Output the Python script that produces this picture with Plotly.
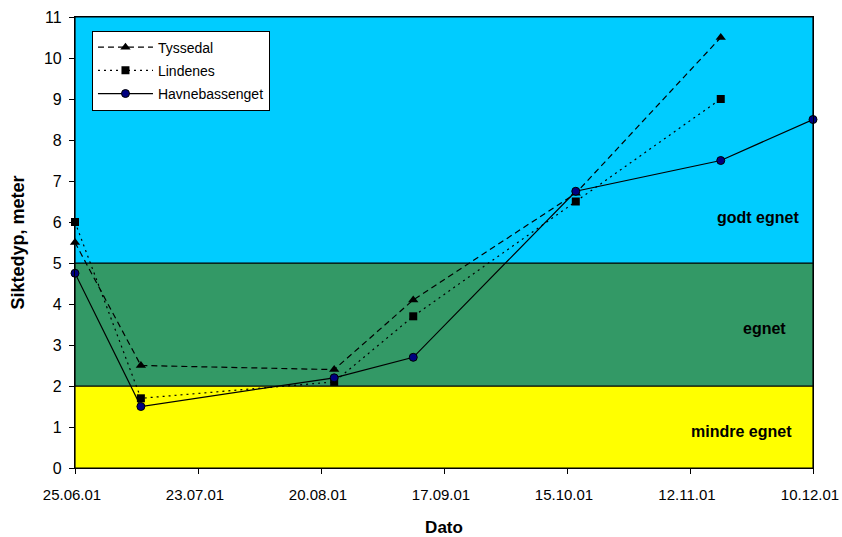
import plotly.graph_objects as go

# Sampling dates and Secchi depths (m) per station
dates = ["2001-06-25", "2001-07-10", "2001-08-23", "2001-09-10",
         "2001-10-17", "2001-11-19", "2001-12-10"]
tyssedal = [5.5, 2.5, 2.4, 4.1, 6.7, 10.5]
lindenes = [6.0, 1.7, 2.1, 3.7, 6.5, 9.0]
havnebassenget = [4.75, 1.5, 2.2, 2.7, 6.75, 7.5, 8.5]

# Suitability classes: (lower, upper, colour, label)
bands = [(0, 2, "#FFFF00", "mindre egnet"),
         (2, 5, "#339966", "egnet"),
         (5, 11, "#00CCFF", "godt egnet")]
band_label_pos = [(0.903, 0.88), (0.934, 3.41), (0.925, 6.1)]

tick_vals = ["2001-06-25", "2001-07-23", "2001-08-20", "2001-09-17",
             "2001-10-15", "2001-11-12", "2001-12-10"]
tick_text = ["25.06.01", "23.07.01", "20.08.01", "17.09.01",
             "15.10.01", "12.11.01", "10.12.01"]

font = "Liberation Sans, Arial, sans-serif"

fig = go.Figure()
fig.add_trace(go.Scatter(
    x=dates[:len(tyssedal)], y=tyssedal, name="Tyssedal", mode="lines+markers",
    legendgroup="a",
    line=dict(color="black", width=1.2, dash="6px,4px"),
    marker=dict(symbol="triangle-up", size=9, color="black"), cliponaxis=False))
fig.add_trace(go.Scatter(
    x=dates[:len(lindenes)], y=lindenes, name="Lindenes", mode="lines+markers",
    legendgroup="b",
    line=dict(color="black", width=1.2, dash="2px,4px"),
    marker=dict(symbol="square", size=8, color="black"), cliponaxis=False))
fig.add_trace(go.Scatter(
    x=dates, y=havnebassenget, name="Havnebassenget", mode="lines+markers",
    legendgroup="c",
    line=dict(color="black", width=1.2),
    marker=dict(symbol="circle", size=8, color="#000080",
                line=dict(color="black", width=1)), cliponaxis=False))

for (lo, hi, col, lab), (lx, ly) in zip(bands, band_label_pos):
    fig.add_shape(type="rect", xref="paper", yref="y", x0=0, x1=1, y0=lo, y1=hi,
                  fillcolor=col, line=dict(color="black", width=1.2), layer="below")
    fig.add_annotation(x=lx, xref="paper", y=ly, yref="y", text=f"<b>{lab}</b>",
                       xanchor="center", yanchor="middle", showarrow=False,
                       font=dict(family=font, size=16, color="black"))

fig.update_layout(
    width=842, height=537,
    margin=dict(l=75, r=29, t=17, b=69),
    paper_bgcolor="white", plot_bgcolor="white",
    font=dict(family=font, size=16, color="black"),
    showlegend=True,
    legend=dict(x=0.023, y=0.97, xanchor="left", yanchor="top",
                bgcolor="white", bordercolor="black", borderwidth=1,
                font=dict(family=font, size=14), itemwidth=55,
                tracegroupgap=2),
    xaxis=dict(type="date", range=["2001-06-25", "2001-12-10"],
               tickvals=tick_vals, ticktext=tick_text, automargin=False,
               ticks="outside", ticklen=5, tickcolor="black",
               tickfont=dict(size=15),
               ticklabelstandoff=8, ticklabelshift=-3,
               ticklabeloverflow="allow",
               showgrid=False, zeroline=False, showline=True,
               linecolor="black", linewidth=1.2, mirror=True,
               title=dict(text="<b>Dato</b>", font=dict(size=17), standoff=22)),
    yaxis=dict(range=[0, 11], dtick=1, ticks="outside", ticklen=5,
               tickcolor="black", showgrid=False, zeroline=False,
               automargin=False, ticklabelstandoff=4,
               showline=True, linecolor="black", linewidth=1.2, mirror=True,
               title=dict(text="<b>Siktedyp, meter</b>", font=dict(size=18),
                          standoff=14)),
)

fig.write_html("out.html")
